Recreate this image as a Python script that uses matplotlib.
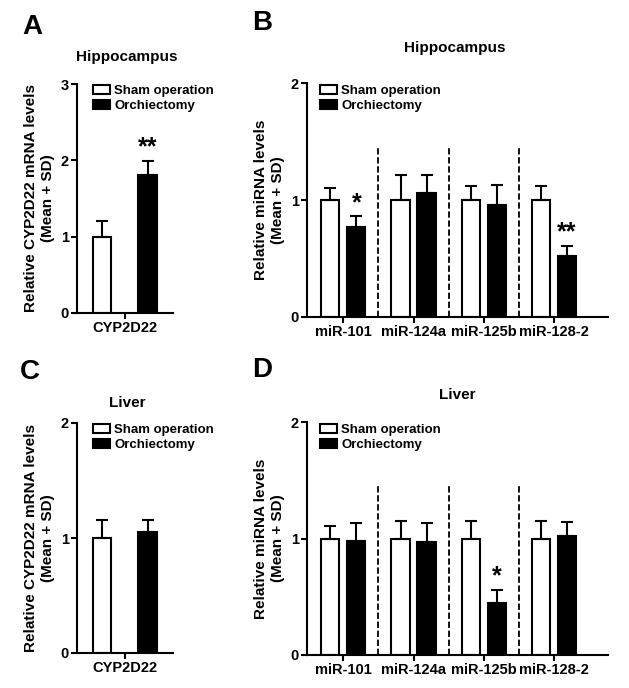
"""Sham operation vs orchiectomy: CYP2D22 and miRNA levels in hippocampus and liver."""

import matplotlib

matplotlib.use("Agg")
import matplotlib.patches as mpatches
import matplotlib.pyplot as plt
import numpy as np

plt.rcParams["font.family"] = ["Liberation Sans", "DejaVu Sans"]
plt.rcParams["font.weight"] = "bold"

# ── Data ─────────────────────────────────────────────────────────────────────
GENES = ["CYP2D22"]
MIRNAS = ["miR-101", "miR-124a", "miR-125b", "miR-128-2"]
GROUPS = ["Sham operation", "Orchiectomy"]

hip_cyp_mean = [1.00, 1.81]
hip_cyp_sd = [0.20, 0.18]
hip_cyp_sig = ["", "**"]

liv_cyp_mean = [1.00, 1.05]
liv_cyp_sd = [0.16, 0.11]
liv_cyp_sig = ["", ""]

hip_mir_sham = [1.00, 1.00, 1.00, 1.00]
hip_mir_sham_sd = [0.10, 0.21, 0.12, 0.12]
hip_mir_orx = [0.77, 1.06, 0.96, 0.52]
hip_mir_orx_sd = [0.09, 0.15, 0.17, 0.09]
hip_mir_sig = ["*", "", "", "**"]

liv_mir_sham = [1.00, 1.00, 1.00, 1.00]
liv_mir_sham_sd = [0.11, 0.15, 0.15, 0.15]
liv_mir_orx = [0.98, 0.97, 0.45, 1.02]
liv_mir_orx_sd = [0.15, 0.16, 0.11, 0.12]
liv_mir_sig = ["", "", "*", ""]

W, H = 629, 688
LW = 1.5


def px_axes(fig, left, top, right, bottom):
    return fig.add_axes([left / W, 1 - bottom / H, (right - left) / W, (bottom - top) / H])


def style(ax, ymax):
    for s in ("top", "right"):
        ax.spines[s].set_visible(False)
    for s in ("left", "bottom"):
        ax.spines[s].set_linewidth(LW)
    ax.set_ylim(0, ymax)
    ax.set_yticks(np.arange(ymax + 1))
    ax.tick_params(axis="both", width=LW, length=4, labelsize=10.5, pad=2)
    for lab in ax.get_xticklabels() + ax.get_yticklabels():
        lab.set_fontweight("bold")


def bars(ax, x, means, sds, color, width):
    ax.bar(x, means, width, color=color, edgecolor="black", linewidth=LW, zorder=2)
    ax.errorbar(x, means, yerr=[np.zeros(len(means)), sds], fmt="none",
                ecolor="black", elinewidth=LW, capsize=4.5, capthick=LW, zorder=3)


def stars(ax, x, means, sds, sig):
    for xi, m, s, t in zip(x, means, sds, sig):
        if t:
            ax.text(xi, m + s + 0.01 * ax.get_ylim()[1], t, ha="center", va="bottom",
                    fontsize=18, fontweight="bold")


def legend(ax, x0, y0):
    handles = [mpatches.Patch(facecolor="white", edgecolor="black", linewidth=LW),
               mpatches.Patch(facecolor="black", edgecolor="black", linewidth=LW)]
    leg = ax.legend(handles, GROUPS, loc="upper left", bbox_to_anchor=(x0, y0),
                    frameon=False, borderpad=0, borderaxespad=0, handlelength=1.3,
                    handleheight=0.65, handletextpad=0.3, labelspacing=0.2,
                    prop={"size": 9.5, "weight": "bold"})
    leg.set_clip_on(False)


def cyp_panel(ax, means, sds, sig, ymax):
    x = np.array([0.0, 1.0])
    bars(ax, x[:1], means[:1], sds[:1], "white", 0.4)
    bars(ax, x[1:], means[1:], sds[1:], "black", 0.4)
    stars(ax, x, means, sds, sig)
    ax.set_xlim(-0.55, 1.56)
    style(ax, ymax)
    ax.set_xticks([0.5])
    ax.set_xticklabels(GENES, fontweight="bold")
    ax.set_ylabel("Relative CYP2D22 mRNA levels\n(Mean + SD)", fontsize=11,
                  fontweight="bold", labelpad=4, linespacing=1.25)
    legend(ax, 0.167, 0.995)


def mir_panel(ax, sham, sham_sd, orx, orx_sd, sig):
    g = np.arange(len(MIRNAS)) * 2.7
    bars(ax, g - 0.5, sham, sham_sd, "white", 0.7)
    bars(ax, g + 0.5, orx, orx_sd, "black", 0.7)
    stars(ax, g + 0.5, orx, orx_sd, sig)
    for d in (g[:-1] + g[1:]) / 2:
        ax.plot([d, d], [0, 1.46], color="black", lw=1.3, ls=(0, (3.5, 1.5)), zorder=1)
    ax.set_xlim(-1.4, g[-1] + 2.08)
    style(ax, 2)
    ax.set_xticks(g)
    ax.set_xticklabels(MIRNAS, fontweight="bold")
    ax.set_ylabel("Relative miRNA levels\n(Mean + SD)", fontsize=11,
                  fontweight="bold", labelpad=4, linespacing=1.25)
    legend(ax, 0.043, 0.99)


fig = plt.figure(figsize=(W / 100, H / 100), dpi=100)
fig.patch.set_facecolor("white")

axA = px_axes(fig, 77, 84, 173, 313)
cyp_panel(axA, hip_cyp_mean, hip_cyp_sd, hip_cyp_sig, 3)
axB = px_axes(fig, 307, 83, 608, 317)
mir_panel(axB, hip_mir_sham, hip_mir_sham_sd, hip_mir_orx, hip_mir_orx_sd, hip_mir_sig)
axC = px_axes(fig, 77, 423, 173, 653)
cyp_panel(axC, liv_cyp_mean, liv_cyp_sd, liv_cyp_sig, 2)
axD = px_axes(fig, 307, 422, 608, 655)
mir_panel(axD, liv_mir_sham, liv_mir_sham_sd, liv_mir_orx, liv_mir_orx_sd, liv_mir_sig)

# titles and panel letters (pixel positions)
for txt, x, y in [("Hippocampus", 127, 57), ("Hippocampus", 455, 48),
                  ("Liver", 127, 403), ("Liver", 457, 395)]:
    fig.text(x / W, 1 - y / H, txt, ha="center", va="center", fontsize=11, fontweight="bold")
for txt, x, y in [("A", 32, 27), ("B", 262, 23), ("C", 30, 372), ("D", 262, 370)]:
    fig.text(x / W, 1 - y / H, txt, ha="center", va="center", fontsize=20, fontweight="bold")

fig.savefig("out.png", dpi=100, facecolor="white")
